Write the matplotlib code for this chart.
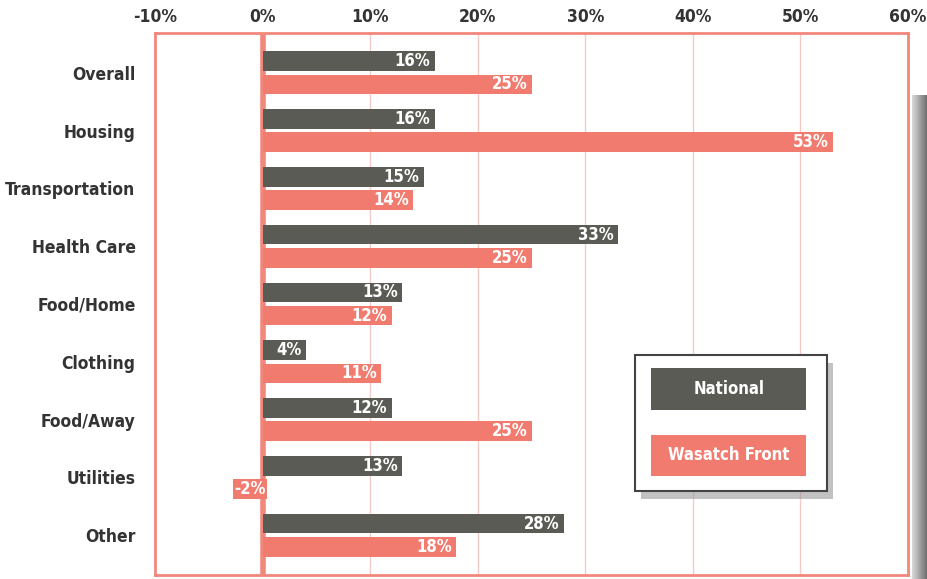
import numpy as np
import matplotlib.pyplot as plt
from matplotlib.patches import Rectangle

plt.rcParams['font.family'] = ['DejaVu Sans']
plt.rcParams['font.stretch'] = 'condensed'

categories = ['Overall', 'Housing', 'Transportation', 'Health Care', 'Food/Home',
              'Clothing', 'Food/Away', 'Utilities', 'Other']
national = [16, 16, 15, 33, 13, 4, 12, 13, 28]
wasatch = [25, 53, 14, 25, 12, 11, 25, -2, 18]
ticks = [-10, 0, 10, 20, 30, 40, 50, 60]

dark = '#5b5b56'
salmon = '#f27b6f'
border = '#f2877c'
grid = '#f5c9c4'

fig = plt.figure(figsize=(9.28, 5.79), dpi=100)
ax = fig.add_axes([155 / 928, 1 - 575 / 579, 753 / 928, 542 / 579])

y = np.arange(len(categories))
h = 0.34
off = 0.2
ax.barh(y - off, national, height=h, color=dark, zorder=3)
ax.barh(y + off, wasatch, height=h, color=salmon, zorder=3)

# value labels sit inside the end of each bar
for i in range(len(categories)):
    for v, dy in ((national[i], -off), (wasatch[i], off)):
        if v >= 0:
            ax.text(v - 0.4, i + dy, f'{v}%', ha='right', va='center', color='white',
                    fontsize=12, fontweight='bold', zorder=4)
        else:
            ax.text(v - 0.6, i + dy, f'{v}%', ha='left', va='center', color='white',
                    fontsize=12, fontweight='bold', zorder=4,
                    bbox=dict(facecolor=salmon, edgecolor='none', pad=1))

ax.set_xlim(-10, 60)
ax.set_ylim(len(categories) - 1 + 0.69, -0.69)
ax.set_xticks(ticks)
ax.set_xticklabels([f'{t}%' for t in ticks], fontsize=12.5, fontweight='bold', color='#333333')
ax.xaxis.tick_top()
ax.tick_params(axis='x', length=0, pad=5)
ax.set_yticks(y)
ax.set_yticklabels(categories, fontsize=12.5, fontweight='bold', color='#333333')
ax.tick_params(axis='y', length=0, pad=14)

for t in ticks[2:-1]:
    ax.axvline(t, color=grid, lw=1, zorder=1)
ax.axvline(0, color=border, lw=4, zorder=2)
for s in ax.spines.values():
    s.set_color(border)
    s.set_linewidth(2)

# legend box with drop shadow
lx, ly, lw, lh = 0.638, 0.155, 0.255, 0.25
ax.add_patch(Rectangle((lx + 0.008, ly - 0.014), lw, lh, transform=ax.transAxes,
                       facecolor='#9a9a9a', edgecolor='none', alpha=0.6, zorder=5))
ax.add_patch(Rectangle((lx, ly), lw, lh, transform=ax.transAxes,
                       facecolor='white', edgecolor='#444444', lw=1.5, zorder=6))
for name, col, yy in (('National', dark, ly + 0.15), ('Wasatch Front', salmon, ly + 0.027)):
    ax.add_patch(Rectangle((lx + 0.021, yy), 0.206, 0.077, transform=ax.transAxes,
                           facecolor=col, edgecolor='none', zorder=7))
    ax.text(lx + 0.124, yy + 0.0385, name, transform=ax.transAxes, ha='center', va='center',
            color='white', fontsize=12, fontweight='bold', zorder=8)

# page shading along the right edge
sh = fig.add_axes([912 / 928, 0, 16 / 928, 1 - 95 / 579])
grad = np.linspace(0, 1, 64).reshape(1, -1)
sh.imshow(grad, aspect='auto', cmap='Greys', vmin=-0.6, vmax=1.6, alpha=0.9)
sh.axis('off')

fig.savefig('out.png', dpi=100)
